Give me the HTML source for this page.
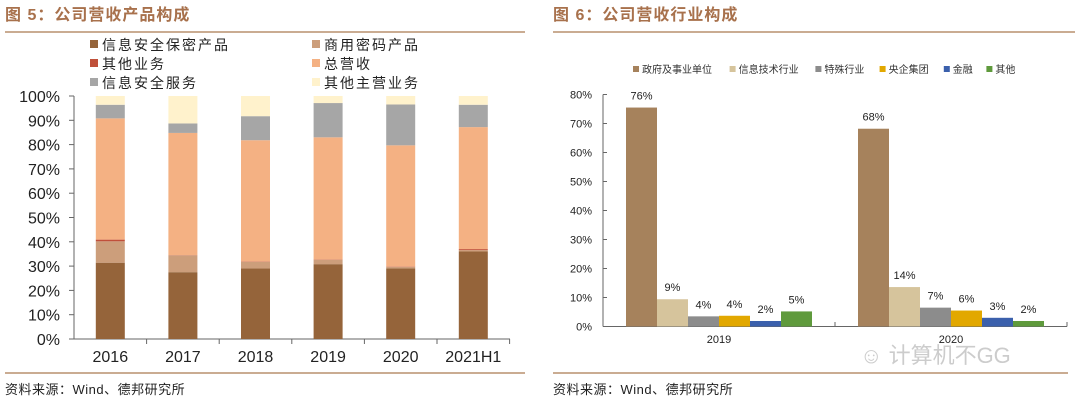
<!DOCTYPE html>
<html><head><meta charset="utf-8"><style>
body{margin:0;background:#fff;width:1080px;height:406px;overflow:hidden}
svg{display:block;font-family:"Liberation Sans","Noto Sans CJK SC",sans-serif}
</style></head><body>
<svg id="s" width="1080" height="406" xmlns="http://www.w3.org/2000/svg">
<text x="5" y="20" font-size="16" font-weight="bold" fill="#A8714C" letter-spacing="1">图 5：公司营收产品构成</text>
<text x="553" y="20" font-size="16" font-weight="bold" fill="#A8714C" letter-spacing="1">图 6：公司营收行业构成</text>
<line x1="5" y1="32" x2="525" y2="32" stroke="#B8906F" stroke-width="1.5"/>
<line x1="553" y1="32" x2="1075" y2="32" stroke="#B8906F" stroke-width="1.5"/>
<line x1="5" y1="373" x2="525" y2="373" stroke="#B8906F" stroke-width="1.5"/>
<line x1="553" y1="373" x2="1068" y2="373" stroke="#B8906F" stroke-width="1.5"/>
<text x="5" y="394" font-size="13" fill="#222" letter-spacing="0.5">资料来源：Wind、德邦研究所</text>
<text x="553" y="394" font-size="13" fill="#222" letter-spacing="0.5">资料来源：Wind、德邦研究所</text>
<text x="860" y="363" font-size="22" fill="#ccc">☺ 计算机不GG</text>
<g id="c1"></g><g id="c2"></g>
</svg>
<script>
const years=["2016","2017","2018","2019","2020","2021H1"];
const infoSecProducts=[31.4,27.5,29.0,30.8,29.0,36.0];
const commCrypto=[8.8,6.9,2.8,1.8,0.7,0.6];
const otherBiz=[0.7,0.1,0.1,0.1,0.1,0.4];
const totalRevenue=[49.9,50.3,49.9,50.3,49.9,50.2];
const infoSecServices=[5.6,3.9,9.9,14.1,16.8,9.2];
const otherMain=[3.6,11.3,8.3,2.9,3.5,3.6];
const yTicks1=["0%","10%","20%","30%","40%","50%","60%","70%","80%","90%","100%"];

const groups2=["2019","2020"];
const industries=["政府及事业单位","信息技术行业","特殊行业","央企集团","金融","其他"];
const ind2019=[75.5,9.4,3.5,3.7,1.9,5.2];
const ind2020=[68.2,13.6,6.5,5.5,3.0,1.9];
const labels2019=["76%","9%","4%","4%","2%","5%"];
const labels2020=["68%","14%","7%","6%","3%","2%"];
const yTicks2=["0%","10%","20%","30%","40%","50%","60%","70%","80%"];

const NS="http://www.w3.org/2000/svg";
function mk(p,t,a,txt){const e=document.createElementNS(NS,t);for(const k in a)e.setAttribute(k,a[k]);if(txt!=null)e.textContent=txt;p.appendChild(e);return e;}

// chart 1
const c1=document.getElementById('c1');
const y1=v=>339-v*2.43, x1=i=>74+72.6*(i+0.5);
yTicks1.forEach((t,i)=>{const y=y1(i*10);
 let e=mk(c1,'line',{x1:69,y1:y,x2:74,y2:y,stroke:'#666'});
 e=mk(c1,'text',{x:60,y:y+6,'font-size':16,'text-anchor':'end',fill:'#222'},t);});
let ax=mk(c1,'line',{x1:74,y1:y1(0),x2:74,y2:y1(100),stroke:'#666'});
ax=mk(c1,'line',{x1:74,y1:339,x2:510,y2:339,stroke:'#666'});
const series1=[[infoSecProducts,'#95643A','信息安全保密产品'],[commCrypto,'#CC9E7B','商用密码产品'],[otherBiz,'#C0503A','其他业务'],[totalRevenue,'#F4B183','总营收'],[infoSecServices,'#A6A6A6','信息安全服务'],[otherMain,'#FFF2CC','其他主营业务']];
years.forEach((yr,i)=>{let acc=0;
 series1.forEach(([arr,col,nm])=>{const v=arr[i];const r=mk(c1,'rect',{x:x1(i)-14.5,y:y1(acc+v),width:29,height:v*2.43,fill:col});acc+=v;});
 let t=mk(c1,'line',{x1:74+72.6*(i+1),y1:339,x2:74+72.6*(i+1),y2:344,stroke:'#666'});
 t=mk(c1,'text',{x:x1(i),y:362,'font-size':16,'text-anchor':'middle',fill:'#222'},yr);});
series1.forEach(([a,col,nm],k)=>{const lx=k%2?312:90, ly=50+Math.floor(k/2)*19;
 let r=mk(c1,'rect',{x:lx,y:ly-10,width:8,height:8,fill:col});
 r=mk(c1,'text',{x:lx+12,y:ly,'font-size':14,fill:'#222','letter-spacing':2},nm);});

// chart 2
const c2=document.getElementById('c2');
const y2=v=>326.5-v*2.9;
yTicks2.forEach((t,i)=>{const y=y2(i*10);
 let e=mk(c2,'line',{x1:603,y1:y,x2:607,y2:y,stroke:'#666'});
 e=mk(c2,'text',{x:592,y:y+4,'font-size':11,'text-anchor':'end',fill:'#222'},t);});
ax=mk(c2,'line',{x1:603,y1:y2(0),x2:603,y2:y2(80),stroke:'#666'});
ax=mk(c2,'line',{x1:603,y1:326.5,x2:1067,y2:326.5,stroke:'#666'});
const cols2=['#A6825C','#D6C49C','#8C8C8C','#E2A800','#3B60AC','#5F9A3C'];
const data2=[ind2019,ind2020], lab2=[labels2019,labels2020];
groups2.forEach((g,gi)=>{const gx=603+232*gi;
 data2[gi].forEach((v,k)=>{const bx=gx+23+31*k;
  let r=mk(c2,'rect',{x:bx,y:y2(v),width:31,height:v*2.9,fill:cols2[k]});
  r=mk(c2,'text',{x:bx+15.5,y:y2(v)-8,'font-size':11,'text-anchor':'middle',fill:'#222'},lab2[gi][k]);});
 let t=mk(c2,'text',{x:gx+116,y:343,'font-size':11,'text-anchor':'middle',fill:'#222'},g);
 t=mk(c2,'line',{x1:gx+232,y1:326.5,x2:gx+232,y2:322,stroke:'#666'});});
let lx=633;
industries.forEach((nm,k)=>{let r=mk(c2,'rect',{x:lx,y:66,width:6,height:6,fill:cols2[k]});
 r=mk(c2,'text',{x:lx+9,y:73,'font-size':10,fill:'#333'},nm);
 lx+=9+nm.length*10.8+12;});
</script>
</body></html>
